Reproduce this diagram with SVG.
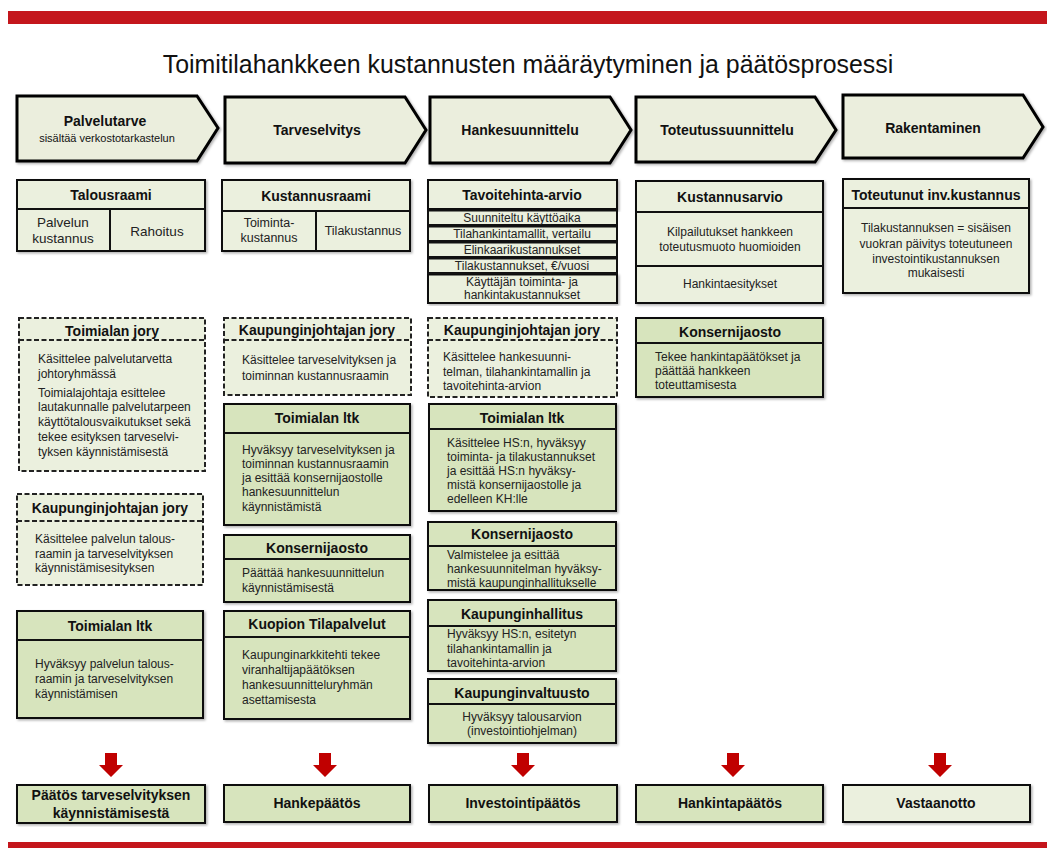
<svg xmlns="http://www.w3.org/2000/svg" width="1047" height="848" viewBox="0 0 1047 848">
<defs>
<style>
.bar{fill:#C4161C}
.chev{fill:#EBEEDD;stroke:#000;stroke-width:3;stroke-linejoin:miter}
.p{fill:#EBF0DE;stroke:#111;stroke-width:2}
.g{fill:#D7E4BD;stroke:#111;stroke-width:2}
.d{fill:#EBF0DE;stroke:#222;stroke-width:2;stroke-dasharray:5 2.5}
.dl{stroke:#222;stroke-width:2;stroke-dasharray:5 2.5}
.l{stroke:#111;stroke-width:2}
.ttl{font-family:'Liberation Sans',Arial,sans-serif;font-size:24.9px;fill:#111;text-anchor:middle}
.h{font-family:'Liberation Sans',Arial,sans-serif;font-size:14px;font-weight:bold;fill:#111;text-anchor:middle}
.hs{font-family:'Liberation Sans',Arial,sans-serif;font-size:11px;fill:#111;text-anchor:middle}
.b{font-family:'Liberation Sans',Arial,sans-serif;font-size:12px;fill:#222}
.bc{font-family:'Liberation Sans',Arial,sans-serif;font-size:12px;fill:#222;text-anchor:middle}
.c{font-family:'Liberation Sans',Arial,sans-serif;font-size:13.5px;fill:#222;text-anchor:middle}
.arr{fill:#C00000}
</style>
<filter id="sh" x="-5%" y="-5%" width="112%" height="115%">
<feDropShadow dx="1.5" dy="1.5" stdDeviation="1" flood-color="#000" flood-opacity="0.3"/>
</filter>
<path id="arrow" d="M-6,0 H6 V12 H12 L0,24 L-12,12 H-6 Z"/>
</defs>
<rect width="1047" height="848" fill="#fff"/>
<rect class="bar" x="8" y="11" width="1039" height="13"/>
<rect class="bar" x="8" y="842" width="1039" height="6"/>
<text class="ttl" x="528" y="73">Toimitilahankkeen kustannusten määräytyminen ja päätösprosessi</text>

<!-- phase chevrons -->
<g id="phase1"><path class="chev" filter="url(#sh)" d="M17,96 L197,96 L218,128 L197,161 L17,161 Z"/>
<text class="h" x="105" y="126">Palvelutarve</text><text class="hs" x="107" y="142">sisältää verkostotarkastelun</text></g>
<g id="phase2"><path class="chev" filter="url(#sh)" d="M225,97 L405,97 L426,130 L405,163 L225,163 Z"/>
<text class="h" x="317" y="135">Tarveselvitys</text></g>
<g id="phase3"><path class="chev" filter="url(#sh)" d="M430,97 L610,97 L631,130 L610,163 L430,163 Z"/>
<text class="h" x="520" y="135">Hankesuunnittelu</text></g>
<g id="phase4"><path class="chev" filter="url(#sh)" d="M636,97 L815,97 L836,130 L815,162 L636,162 Z"/>
<text class="h" x="727" y="135">Toteutussuunnittelu</text></g>
<g id="phase5"><path class="chev" filter="url(#sh)" d="M843,95 L1023,95 L1043,127 L1023,158 L843,158 Z"/>
<text class="h" x="933" y="133">Rakentaminen</text></g>

<!-- column 1 -->
<g id="talousraami"><rect class="p" filter="url(#sh)" x="17" y="180" width="188" height="71"/>
<line class="l" x1="17" y1="209" x2="205" y2="209"/><line class="l" x1="110" y1="209" x2="110" y2="251"/>
<text class="h" x="111" y="200">Talousraami</text>
<text class="c" x="63" y="227">Palvelun</text><text class="c" x="63" y="243">kustannus</text>
<text class="c" x="157" y="236">Rahoitus</text></g>

<g id="toimialan-jory"><rect class="d" x="19" y="318" width="186" height="153"/>
<line class="dl" x1="19" y1="340" x2="205" y2="340"/>
<text class="h" x="112" y="336">Toimialan jory</text>
<text class="b" x="38" y="363">Käsittelee palvelutarvetta</text>
<text class="b" x="38" y="378">johtoryhmässä</text>
<text class="b" x="38" y="397">Toimialajohtaja esittelee</text>
<text class="b" x="38" y="411">lautakunnalle palvelutarpeen</text>
<text class="b" x="38" y="426">käyttötalousvaikutukset sekä</text>
<text class="b" x="38" y="441">tekee esityksen tarveselvi-</text>
<text class="b" x="38" y="456">tyksen käynnistämisestä</text></g>

<g id="kj-jory-1"><rect class="d" x="17" y="494" width="186" height="91"/>
<line class="dl" x1="17" y1="521" x2="203" y2="521"/>
<text class="h" x="110" y="513">Kaupunginjohtajan jory</text>
<text class="b" x="35" y="543">Käsittelee palvelun talous-</text>
<text class="b" x="35" y="558">raamin ja tarveselvityksen</text>
<text class="b" x="35" y="572">käynnistämisesityksen</text></g>

<g id="ltk-1"><rect class="g" filter="url(#sh)" x="17" y="611" width="186" height="107"/>
<line class="l" x1="17" y1="640" x2="203" y2="640"/>
<text class="h" x="110" y="631">Toimialan ltk</text>
<text class="b" x="35" y="668">Hyväksyy palvelun talous-</text>
<text class="b" x="35" y="683">raamin ja tarveselvityksen</text>
<text class="b" x="35" y="698">käynnistämisen</text></g>

<g id="paatos-1"><rect class="g" filter="url(#sh)" x="17" y="785" width="188" height="38"/>
<text class="h" x="111" y="800">Päätös tarveselvityksen</text>
<text class="h" x="111" y="818">käynnistämisestä</text></g>

<!-- column 2 -->
<g id="kustannusraami"><rect class="p" filter="url(#sh)" x="222" y="180" width="188" height="71"/>
<line class="l" x1="222" y1="211" x2="410" y2="211"/><line class="l" x1="316" y1="211" x2="316" y2="251"/>
<text class="h" x="316" y="201">Kustannusraami</text>
<text class="c" x="269" y="227" style="font-size:12.5px">Toiminta-</text><text class="c" x="269" y="242" style="font-size:12.5px">kustannus</text>
<text class="c" x="363" y="235" style="font-size:12.5px">Tilakustannus</text></g>

<g id="kj-jory-2"><rect class="d" x="224" y="318" width="187" height="77"/>
<line class="dl" x1="224" y1="340" x2="411" y2="340"/>
<text class="h" x="317" y="335">Kaupunginjohtajan jory</text>
<text class="b" x="242" y="364">Käsittelee tarveselvityksen ja</text>
<text class="b" x="242" y="380">toiminnan kustannusraamin</text></g>

<g id="ltk-2"><rect class="g" filter="url(#sh)" x="224" y="404" width="186" height="121"/>
<line class="l" x1="224" y1="433" x2="410" y2="433"/>
<text class="h" x="317" y="423">Toimialan ltk</text>
<text class="b" x="242" y="454">Hyväksyy tarveselvityksen ja</text>
<text class="b" x="242" y="468">toiminnan kustannusraamin</text>
<text class="b" x="242" y="482">ja esittää konsernijaostolle</text>
<text class="b" x="242" y="496">hankesuunnittelun</text>
<text class="b" x="242" y="511">käynnistämistä</text></g>

<g id="konsernijaosto-2"><rect class="g" filter="url(#sh)" x="224" y="535" width="186" height="67"/>
<line class="l" x1="224" y1="559" x2="410" y2="559"/>
<text class="h" x="317" y="553">Konsernijaosto</text>
<text class="b" x="242" y="577">Päättää hankesuunnittelun</text>
<text class="b" x="242" y="592">käynnistämisestä</text></g>

<g id="tilapalvelut"><rect class="g" filter="url(#sh)" x="224" y="611" width="186" height="108"/>
<line class="l" x1="224" y1="637" x2="410" y2="637"/>
<text class="h" x="317" y="629">Kuopion Tilapalvelut</text>
<text class="b" x="242" y="659">Kaupunginarkkitehti tekee</text>
<text class="b" x="242" y="674">viranhaltijapäätöksen</text>
<text class="b" x="242" y="689">hankesuunnitteluryhmän</text>
<text class="b" x="242" y="704">asettamisesta</text></g>

<g id="hankepaatos"><rect class="g" filter="url(#sh)" x="224" y="785" width="186" height="37"/>
<text class="h" x="317" y="808">Hankepäätös</text></g>

<!-- column 3 -->
<g id="tavoitehinta"><rect class="p" filter="url(#sh)" x="428" y="180" width="189" height="29"/>
<text class="h" x="522" y="200">Tavoitehinta-arvio</text>
<rect class="p" x="428" y="210.5" width="189" height="14.5"/>
<rect class="p" x="428" y="226.5" width="189" height="14.5"/>
<rect class="p" x="428" y="242.5" width="189" height="14.5"/>
<rect class="p" x="428" y="258.5" width="189" height="14.5"/>
<rect class="p" filter="url(#sh)" x="428" y="274.5" width="189" height="28.5"/>
<text class="bc" x="522" y="222">Suunniteltu käyttöaika</text>
<text class="bc" x="522" y="238">Tilahankintamallit, vertailu</text>
<text class="bc" x="522" y="254">Elinkaarikustannukset</text>
<text class="bc" x="522" y="270">Tilakustannukset, €/vuosi</text>
<text class="bc" x="522" y="286">Käyttäjän toiminta- ja</text>
<text class="bc" x="522" y="299">hankintakustannukset</text></g>

<g id="kj-jory-3"><rect class="d" x="428" y="318" width="189" height="79"/>
<line class="dl" x1="428" y1="340" x2="617" y2="340"/>
<text class="h" x="522" y="335">Kaupunginjohtajan jory</text>
<text class="b" x="443" y="361">Käsittelee hankesuunni-</text>
<text class="b" x="443" y="376">telman, tilahankintamallin ja</text>
<text class="b" x="443" y="390">tavoitehinta-arvion</text></g>

<g id="ltk-3"><rect class="g" filter="url(#sh)" x="429" y="404" width="187" height="107"/>
<line class="l" x1="429" y1="429" x2="616" y2="429"/>
<text class="h" x="522" y="423">Toimialan ltk</text>
<text class="b" x="447" y="447">Käsittelee HS:n, hyväksyy</text>
<text class="b" x="447" y="461">toiminta- ja tilakustannukset</text>
<text class="b" x="447" y="475">ja esittää HS:n hyväksy-</text>
<text class="b" x="447" y="489">mistä konsernijaostolle ja</text>
<text class="b" x="447" y="503">edelleen KH:lle</text></g>

<g id="konsernijaosto-3"><rect class="g" filter="url(#sh)" x="428" y="522" width="188" height="68"/>
<line class="l" x1="428" y1="546" x2="616" y2="546"/>
<text class="h" x="522" y="539">Konsernijaosto</text>
<text class="b" x="447" y="559">Valmistelee ja esittää</text>
<text class="b" x="447" y="573">hankesuunnitelman hyväksy-</text>
<text class="b" x="447" y="587">mistä kaupunginhallitukselle</text></g>

<g id="kaupunginhallitus"><rect class="g" filter="url(#sh)" x="428" y="600" width="188" height="71"/>
<line class="l" x1="428" y1="626" x2="616" y2="626"/>
<text class="h" x="522" y="619">Kaupunginhallitus</text>
<text class="b" x="447" y="638">Hyväksyy HS:n, esitetyn</text>
<text class="b" x="447" y="653">tilahankintamallin ja</text>
<text class="b" x="447" y="667">tavoitehinta-arvion</text></g>

<g id="kaupunginvaltuusto"><rect class="g" filter="url(#sh)" x="428" y="679" width="188" height="64"/>
<line class="l" x1="428" y1="704" x2="616" y2="704"/>
<text class="h" x="522" y="698">Kaupunginvaltuusto</text>
<text class="bc" x="522" y="721">Hyväksyy talousarvion</text>
<text class="bc" x="522" y="735">(investointiohjelman)</text></g>

<g id="investointipaatos"><rect class="g" filter="url(#sh)" x="429" y="785" width="188" height="37"/>
<text class="h" x="523" y="808">Investointipäätös</text></g>

<!-- column 4 -->
<g id="kustannusarvio"><rect class="p" filter="url(#sh)" x="636" y="181" width="187" height="122"/>
<line class="l" x1="636" y1="212" x2="823" y2="212"/><line class="l" x1="636" y1="266" x2="823" y2="266"/>
<text class="h" x="730" y="202">Kustannusarvio</text>
<text class="bc" x="730" y="236">Kilpailutukset hankkeen</text>
<text class="bc" x="730" y="251">toteutusmuoto huomioiden</text>
<text class="bc" x="730" y="288">Hankintaesitykset</text></g>

<g id="konsernijaosto-4"><rect class="g" filter="url(#sh)" x="636" y="318" width="187" height="79"/>
<line class="l" x1="636" y1="343" x2="823" y2="343"/>
<text class="h" x="730" y="337">Konsernijaosto</text>
<text class="b" x="655" y="361">Tekee hankintapäätökset ja</text>
<text class="b" x="655" y="375">päättää hankkeen</text>
<text class="b" x="655" y="389">toteuttamisesta</text></g>

<g id="hankintapaatos"><rect class="g" filter="url(#sh)" x="636" y="785" width="187" height="37"/>
<text class="h" x="730" y="808">Hankintapäätös</text></g>

<!-- column 5 -->
<g id="toteutunut"><rect class="p" filter="url(#sh)" x="843" y="179" width="186" height="114"/>
<line class="l" x1="843" y1="208" x2="1029" y2="208"/>
<text class="h" x="936" y="200">Toteutunut inv.kustannus</text>
<text class="bc" x="936" y="232">Tilakustannuksen = sisäisen</text>
<text class="bc" x="936" y="248">vuokran päivitys toteutuneen</text>
<text class="bc" x="936" y="263">investointikustannuksen</text>
<text class="bc" x="936" y="277">mukaisesti</text></g>

<g id="vastaanotto"><rect class="p" filter="url(#sh)" x="843" y="785" width="187" height="37"/>
<text class="h" x="936" y="808">Vastaanotto</text></g>

<!-- connectors: decision arrows -->
<g id="connectors" class="arr">
<use href="#arrow" x="111" y="753"/>
<use href="#arrow" x="325" y="753"/>
<use href="#arrow" x="523" y="753"/>
<use href="#arrow" x="733" y="753"/>
<use href="#arrow" x="940" y="753"/>
</g>
</svg>
